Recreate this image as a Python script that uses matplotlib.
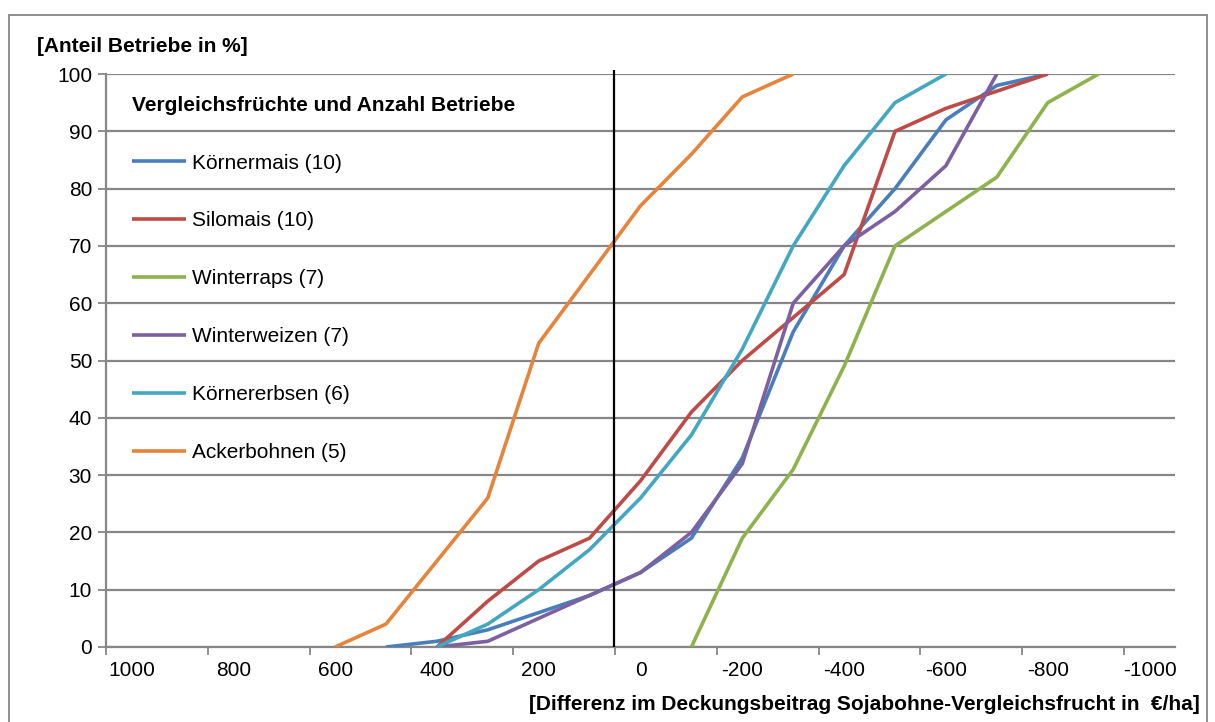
import matplotlib
matplotlib.use("Agg")
import matplotlib.pyplot as plt
from matplotlib.patches import Rectangle

plt.rcParams['font.family'] = ['Liberation Sans', 'DejaVu Sans']

# Differenz im Deckungsbeitrag (EUR/ha) und kumulierter Anteil Betriebe (%)
koernermais_x = [500, 400, 300, 100, 0, -100, -200, -300, -400, -500, -600, -700, -800]
koernermais_y = [0, 1, 3, 9, 13, 19, 33, 55, 70, 80, 92, 98, 100]

silomais_x = [400, 300, 200, 100, 0, -100, -200, -400, -500, -600, -700, -800]
silomais_y = [0, 8, 15, 19, 29, 41, 50, 65, 90, 94, 97, 100]

winterraps_x = [-100, -200, -300, -400, -500, -700, -800, -900]
winterraps_y = [0, 19, 31, 49, 70, 82, 95, 100]

winterweizen_x = [400, 300, 100, 0, -100, -200, -300, -400, -500, -600, -700]
winterweizen_y = [0, 1, 9, 13, 20, 32, 60, 70, 76, 84, 100]

koernererbsen_x = [400, 300, 200, 100, 0, -100, -200, -300, -400, -500, -600]
koernererbsen_y = [0, 4, 10, 17, 26, 37, 52, 70, 84, 95, 100]

ackerbohnen_x = [600, 500, 300, 200, 0, -100, -200, -300]
ackerbohnen_y = [0, 4, 26, 53, 77, 86, 96, 100]

labels = ["Körnermais (10)", "Silomais (10)", "Winterraps (7)",
          "Winterweizen (7)", "Körnererbsen (6)", "Ackerbohnen (5)"]
colors = ["#4A7EBB", "#BE4B48", "#8EB24C", "#7D60A0", "#43A7C2", "#E5843A"]

x_ticklabels = [1000, 800, 600, 400, 200, 0, -200, -400, -600, -800, -1000]
y_ticks = list(range(0, 101, 10))

series = [(koernermais_x, koernermais_y), (silomais_x, silomais_y),
          (winterraps_x, winterraps_y), (winterweizen_x, winterweizen_y),
          (koernererbsen_x, koernererbsen_y), (ackerbohnen_x, ackerbohnen_y)]

fs = 15
grey = "#868686"

fig = plt.figure(figsize=(12.15, 7.22), dpi=100)
ax = fig.add_axes([106 / 1215, 75 / 722, 1069 / 1215, 573 / 722])

for (xs, ys), lab, col in zip(series, labels, colors):
    ax.plot(xs, ys, color=col, lw=2.6, label=lab, solid_capstyle="butt", zorder=3)

# Nulllinie (schwarz)
ax.vlines(53, 0, 100.7, color="black", lw=1.6, zorder=4, clip_on=False)

ax.set_xlim(1050, -1050)
ax.set_ylim(0, 100)

ax.set_xticks(x_ticklabels)
ax.set_xticklabels([str(v) for v in x_ticklabels], fontsize=fs)
ax.tick_params(axis="x", which="major", length=0, pad=10)
ax.set_xticks([v + 50 for v in x_ticklabels], minor=True)
ax.tick_params(axis="x", which="minor", length=6, width=1.3, color=grey, direction="out")

ax.set_yticks(y_ticks)
ax.set_yticklabels([str(v) for v in y_ticks], fontsize=fs)
ax.tick_params(axis="y", length=6, width=1.3, color=grey, pad=4)

ax.grid(axis="y", color=grey, lw=1.6, zorder=1)
ax.set_axisbelow(True)
for s in ["top", "right"]:
    ax.spines[s].set_visible(False)
for s in ["left", "bottom"]:
    ax.spines[s].set_color(grey)
    ax.spines[s].set_linewidth(1.6)

fig.text(37 / 1215, 1 - 47 / 722, "[Anteil Betriebe in %]", fontsize=fs,
         fontweight="bold", ha="left", va="center")
fig.text(1200 / 1215, 1 - 704 / 722,
         "[Differenz im Deckungsbeitrag Sojabohne-Vergleichsfrucht in  €/ha]",
         fontsize=fs, fontweight="bold", ha="right", va="center")

leg = ax.legend(loc="upper left", bbox_to_anchor=(0.0243, 0.962), frameon=False,
                fontsize=fs, title="Vergleichsfrüchte und Anzahl Betriebe",
                title_fontproperties={"weight": "bold", "size": fs},
                alignment="left", handlelength=2.6, handletextpad=0.3,
                labelspacing=1.865, borderpad=0, borderaxespad=0)

fig.patches.append(Rectangle((9 / 1215, -0.05), 1198 / 1215, 1.05 - 15 / 722,
                             transform=fig.transFigure, fill=False,
                             edgecolor=grey, lw=1.3))

fig.savefig("out.png", dpi=100)
